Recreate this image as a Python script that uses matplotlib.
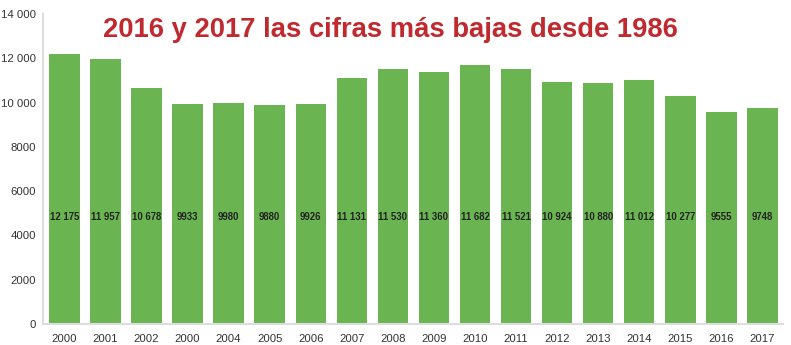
import matplotlib
matplotlib.use('Agg')
from matplotlib import pyplot as plt
import numpy as np

years = ['2000', '2001', '2002', '2000', '2004', '2005', '2006', '2007', '2008',
         '2009', '2010', '2011', '2012', '2013', '2014', '2015', '2016', '2017']
values = [12175, 11957, 10678, 9933, 9980, 9880, 9926, 11131, 11530,
          11360, 11682, 11521, 10924, 10880, 11012, 10277, 9555, 9748]
value_labels = ['12 175', '11 957', '10 678', '9933', '9980', '9880', '9926', '11 131', '11 530',
                '11 360', '11 682', '11 521', '10 924', '10 880', '11 012', '10 277', '9555', '9748']
yticks = [0, 2000, 4000, 6000, 8000, 10000, 12000, 14000]
ytick_labels = ['0', '2000', '4000', '6000', '8000', '10 000', '12 000', '14 000']

plt.rcParams['font.family'] = ['Liberation Sans', 'DejaVu Sans']

fig = plt.figure(figsize=(7.91, 3.45), dpi=100)
W, H = 791, 345
ax = fig.add_axes([43 / W, 1 - 324 / H, (783 - 43) / W, (324 - 14) / H])

x = np.arange(len(values))
ax.bar(x, values, width=0.74, color='#6ab552')

for i, v in enumerate(value_labels):
    ax.text(x[i], 4850, v, ha='center', va='center', fontsize=6.9,
            fontweight='bold', color='#222222')

ax.set_xlim(-0.52, len(values) - 0.5)
ax.set_ylim(0, 14000)
ax.set_yticks(yticks)
ax.set_yticklabels(ytick_labels)
ax.set_xticks(x)
ax.set_xticklabels(years)
ax.tick_params(axis='both', length=0, labelsize=8.2, colors='#333333')
ax.tick_params(axis='y', pad=5)
ax.tick_params(axis='x', pad=7)

for s in ['top', 'right']:
    ax.spines[s].set_visible(False)
ax.spines['left'].set_color('#dddddd')
ax.spines['bottom'].set_color('#dddddd')
ax.spines['left'].set_linewidth(1.5)
ax.spines['bottom'].set_linewidth(1.5)

fig.text(390 / W, 1 - 30 / H, '2016 y 2017 las cifras más bajas desde 1986',
         ha='center', va='center', fontsize=19.7, fontweight='bold', color='#c0292e')

fig.savefig('out.png', dpi=100)
